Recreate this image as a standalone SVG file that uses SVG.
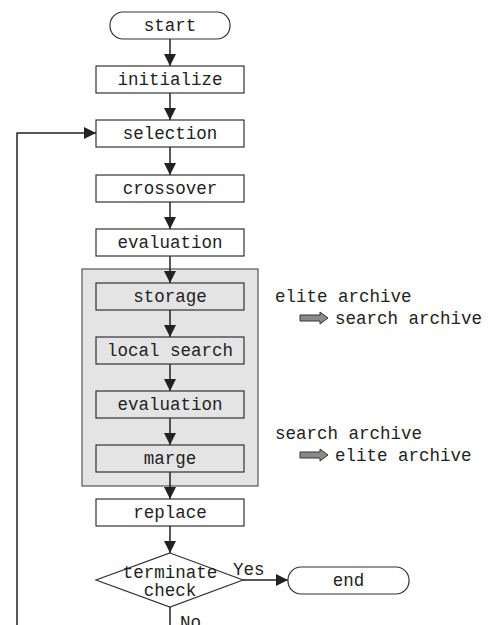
<svg xmlns="http://www.w3.org/2000/svg" width="490" height="625" viewBox="0 0 490 625">
<style>
text{font-family:"Liberation Mono","Courier New",monospace;font-size:17.5px;fill:#222;}
.c{text-anchor:middle;}
.box{fill:#fff;stroke:#333;stroke-width:1.2;}
.gbox{fill:#e4e4e4;stroke:#333;stroke-width:1.2;}
.grp{fill:#e4e4e4;stroke:#555;stroke-width:1.2;}
.ln{fill:none;stroke:#222;stroke-width:1.5;}
.garr{fill:#8a8a8a;stroke:#333;stroke-width:1;}
</style>
<defs>
<marker id="ah" viewBox="0 0 12 12" refX="12" refY="6" markerWidth="12" markerHeight="12" markerUnits="userSpaceOnUse" orient="auto">
<path d="M0,0 L12,6 L0,12 Z" fill="#222"/>
</marker>
</defs>
<rect id="group" class="grp" x="82" y="269" width="176" height="217"/>
<g id="connectors">
<line class="ln" x1="170" y1="39" x2="170" y2="66" marker-end="url(#ah)"/>
<line class="ln" x1="170" y1="93" x2="170" y2="120" marker-end="url(#ah)"/>
<line class="ln" x1="170" y1="147" x2="170" y2="175" marker-end="url(#ah)"/>
<line class="ln" x1="170" y1="202" x2="170" y2="229" marker-end="url(#ah)"/>
<line class="ln" x1="170" y1="256" x2="170" y2="283" marker-end="url(#ah)"/>
<line class="ln" x1="170" y1="310" x2="170" y2="337" marker-end="url(#ah)"/>
<line class="ln" x1="170" y1="364" x2="170" y2="391" marker-end="url(#ah)"/>
<line class="ln" x1="170" y1="418" x2="170" y2="445" marker-end="url(#ah)"/>
<line class="ln" x1="170" y1="472" x2="170" y2="499" marker-end="url(#ah)"/>
<line class="ln" x1="170" y1="526" x2="170" y2="553" marker-end="url(#ah)"/>
<line class="ln" x1="243" y1="580" x2="288" y2="580" marker-end="url(#ah)"/>
<line class="ln" x1="170" y1="607" x2="170" y2="625"/>
<polyline class="ln" points="17,625 17,133 96,133" marker-end="url(#ah)"/>
<text x="233" y="575">Yes</text>
<text x="180" y="628">No</text>
</g>
<g id="start"><rect class="box" x="110" y="12" width="120" height="27" rx="13"/><text class="c" x="170" y="31">start</text></g>
<g id="initialize"><rect class="box" x="96" y="66" width="148" height="27"/><text class="c" x="170" y="85">initialize</text></g>
<g id="selection"><rect class="box" x="96" y="120" width="148" height="27"/><text class="c" x="170" y="139">selection</text></g>
<g id="crossover"><rect class="box" x="96" y="175" width="148" height="27"/><text class="c" x="170" y="194">crossover</text></g>
<g id="evaluation1"><rect class="box" x="96" y="229" width="148" height="27"/><text class="c" x="170" y="248">evaluation</text></g>
<g id="storage"><rect class="gbox" x="96" y="283" width="148" height="27"/><text class="c" x="170" y="302">storage</text></g>
<g id="localsearch"><rect class="gbox" x="96" y="337" width="148" height="27"/><text class="c" x="170" y="356">local search</text></g>
<g id="evaluation2"><rect class="gbox" x="96" y="391" width="148" height="27"/><text class="c" x="170" y="410">evaluation</text></g>
<g id="marge"><rect class="gbox" x="96" y="445" width="148" height="27"/><text class="c" x="170" y="464">marge</text></g>
<g id="replace"><rect class="box" x="96" y="499" width="148" height="27"/><text class="c" x="170" y="518">replace</text></g>
<g id="terminate"><polygon class="box" points="170,553 243,580 170,607 96,580"/><text class="c" x="170" y="578">terminate</text><text class="c" x="170" y="596">check</text></g>
<g id="end"><rect class="box" x="288" y="567" width="121" height="27" rx="13"/><text class="c" x="348.500" y="586">end</text></g>
<g id="note1">
<text x="275" y="302">elite archive</text>
<path class="garr" d="M300,315 L320,315 L320,312 L328,318 L320,324 L320,321 L300,321 Z"/>
<text x="335" y="324">search archive</text>
</g>
<g id="note2">
<text x="275" y="439">search archive</text>
<path class="garr" d="M300,452 L320,452 L320,449 L328,455 L320,461 L320,458 L300,458 Z"/>
<text x="335" y="461">elite archive</text>
</g>
</svg>
